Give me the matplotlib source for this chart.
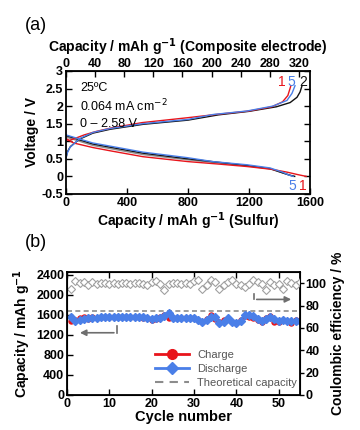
import matplotlib
matplotlib.use("Agg")
import matplotlib.pyplot as plt
from matplotlib.lines import Line2D
from matplotlib.ticker import FuncFormatter

plt.rcParams['font.family'] = ['Liberation Sans', 'DejaVu Sans']
plt.rcParams['axes.unicode_minus'] = False

# ---------------- Panel (a) data: voltage profiles ----------------
# cycle 1 (red)
c1_chg_cap = [0, 20, 60, 120, 200, 300, 500, 800, 1000, 1200, 1350, 1420, 1455, 1475]
c1_chg_v = [1.05, 1.02, 1.08, 1.18, 1.28, 1.38, 1.53, 1.67, 1.77, 1.86, 1.98, 2.12, 2.3, 2.58]
c1_dis_cap = [0, 50, 177, 300, 505, 800, 1000, 1187, 1350, 1450, 1520, 1575]
c1_dis_v = [1.08, 0.95, 0.82, 0.72, 0.56, 0.42, 0.35, 0.28, 0.2, 0.12, 0.05, 0.0]
# cycle 2 (black)
c2_chg_cap = [0, 10, 30, 90, 177, 290, 505, 800, 1000, 1200, 1380, 1470, 1515, 1535, 1548]
c2_chg_v = [0.5, 0.7, 0.85, 1.06, 1.23, 1.34, 1.48, 1.6, 1.75, 1.85, 1.98, 2.1, 2.25, 2.4, 2.58]
c2_dis_cap = [0, 177, 505, 800, 1000, 1187, 1340, 1420, 1470, 1500]
c2_dis_v = [1.16, 0.92, 0.66, 0.5, 0.4, 0.31, 0.22, 0.1, 0.03, 0.0]
# cycles 3-4 (grey)
c3_dis_cap = [0, 177, 505, 800, 1000, 1187, 1340, 1420, 1470, 1495]
c3_dis_v = [1.12, 0.88, 0.62, 0.47, 0.38, 0.3, 0.21, 0.1, 0.03, 0.0]
# cycle 5 (blue)
c5_chg_cap = [0, 8, 26, 92, 177, 288, 505, 800, 964, 1187, 1357, 1449, 1482, 1502]
c5_chg_v = [0.5, 0.65, 0.82, 1.08, 1.25, 1.36, 1.5, 1.62, 1.76, 1.86, 2.0, 2.16, 2.36, 2.58]
c5_dis_cap = [0, 177, 505, 800, 964, 1187, 1338, 1420, 1460, 1490]
c5_dis_v = [1.18, 0.95, 0.69, 0.53, 0.42, 0.33, 0.24, 0.12, 0.04, 0.0]

composite_ratio = 335 / 1600.0

# ---------------- Panel (b) data: cycling ----------------
cycles = list(range(1, 56))
charge = [1480, 1500, 1540, 1560, 1520, 1560, 1540, 1560, 1560, 1550,
          1560, 1560, 1550, 1560, 1550, 1560, 1550, 1540, 1540, 1500,
          1520, 1560, 1600, 1540, 1540, 1540, 1540, 1540, 1540, 1530,
          1500, 1460, 1520, 1600, 1520, 1460, 1500, 1520, 1460, 1440,
          1500, 1580, 1560, 1540, 1500, 1460, 1540, 1580, 1460, 1460,
          1500, 1480, 1440, 1500, 1480]
discharge = [1560, 1480, 1500, 1520, 1540, 1540, 1540, 1550, 1550, 1550,
             1560, 1560, 1550, 1560, 1550, 1560, 1550, 1550, 1540, 1520,
             1530, 1540, 1580, 1640, 1540, 1540, 1540, 1540, 1540, 1530,
             1500, 1460, 1500, 1560, 1560, 1440, 1460, 1540, 1460, 1440,
             1480, 1600, 1600, 1580, 1520, 1480, 1520, 1560, 1520, 1480,
             1500, 1480, 1480, 1480, 1480]
efficiency = [94.6, 101.8, 100.6, 101.5, 98.8, 101.0, 99.4, 100.3, 100.0, 99.7,
              100.0, 99.7, 100.0, 100.3, 99.7, 100.0, 100.3, 99.7, 98.5, 101.0,
              102.3, 99.4, 93.8, 99.4, 100.0, 100.3, 99.7, 100.3, 99.7, 101.8,
              103.0, 95.2, 98.2, 102.7, 101.2, 95.2, 98.2, 101.2, 103.0, 99.7,
              98.2, 96.7, 99.7, 102.7, 101.2, 99.7, 93.8, 101.2, 98.2, 99.7,
              95.2, 102.0, 100.3, 98.5, 101.5]
theoretical = 1672

RED = '#e8141b'
BLUE = '#4a7fe8'
BLACK = '#111111'
GREY = '#8c8c8c'
bold = dict(fontweight='bold')
TICK_FS = 9

fig = plt.figure(figsize=(3.6, 4.3), dpi=100)

# ================= panel (a) =================
ax = fig.add_axes([0.183, 0.549, 0.678, 0.286])
ax.plot(c3_dis_cap, c3_dis_v, color=GREY, lw=1)
ax.plot(c2_chg_cap, c2_chg_v, color=BLACK, lw=1)
ax.plot(c2_dis_cap, c2_dis_v, color=BLACK, lw=1)
ax.plot(c1_chg_cap, c1_chg_v, color=RED, lw=1)
ax.plot(c1_dis_cap, c1_dis_v, color=RED, lw=1)
ax.plot(c5_chg_cap, c5_chg_v, color=BLUE, lw=1)
ax.plot(c5_dis_cap, c5_dis_v, color=BLUE, lw=1)
ax.set_xlim(0, 1600)
ax.set_ylim(-0.5, 3)
ax.set_xticks([0, 400, 800, 1200, 1600])
ax.set_yticks([-0.5, 0, 0.5, 1, 1.5, 2, 2.5, 3])
ax.yaxis.set_major_formatter(FuncFormatter(lambda v, p: '%g' % v))
ax.tick_params(direction='in', length=4, width=1, labelsize=TICK_FS, right=True, top=False, pad=2)
for lab in ax.get_xticklabels() + ax.get_yticklabels():
    lab.set_fontweight('bold')
for s in ax.spines.values():
    s.set_linewidth(1.3)
ax.set_xlabel('Capacity / mAh g$^{\\mathbf{-1}}$ (Sulfur)', fontsize=10, labelpad=1, **bold)
ax.set_ylabel('Voltage / V', fontsize=10, labelpad=2, **bold)

sec = ax.secondary_xaxis('top', functions=(lambda x: x * composite_ratio,
                                           lambda x: x / composite_ratio))
sec.set_xticks([0, 40, 80, 120, 160, 200, 240, 280, 320])
sec.tick_params(direction='in', length=4, width=1, labelsize=TICK_FS, pad=1)
for lab in sec.get_xticklabels():
    lab.set_fontweight('bold')
sec.set_xlabel('Capacity / mAh g$^{\\mathbf{-1}}$ (Composite electrode)', fontsize=10, labelpad=4, **bold)

ax.text(95, 2.52, '25ºC', fontsize=9, va='center')
ax.text(95, 2.0, '0.064 mA cm$^{-2}$', fontsize=9, va='center')
ax.text(95, 1.5, '0 – 2.58 V', fontsize=9, va='center')
ax.text(1416, 2.68, '1', color=RED, fontsize=10, ha='center', va='center')
ax.text(1475, 2.68, '5', color=BLUE, fontsize=10, ha='center', va='center')
ax.text(1554, 2.68, '2', color=BLACK, fontsize=10, ha='center', va='center')
ax.text(1482, -0.27, '5', color=BLUE, fontsize=10, ha='center', va='center')
ax.text(1554, -0.27, '1', color=RED, fontsize=10, ha='center', va='center')

fig.text(0.07, 0.94, '(a)', fontsize=13, va='center', ha='left')
fig.text(0.07, 0.435, '(b)', fontsize=13, va='center', ha='left')

# ================= panel (b) =================
bx = fig.add_axes([0.186, 0.0814, 0.647, 0.286])
bx.axhline(theoretical, color=GREY, lw=1.2, ls=(0, (3, 2)))
bx.plot(cycles, charge, color=RED, lw=1, marker='o', ms=3.6, mec=RED, mfc=RED)
bx.plot(cycles, discharge, color=BLUE, lw=1, marker='D', ms=3.6, mec=BLUE, mfc=BLUE)
bx.set_xlim(0, 55)
bx.set_ylim(0, 2450)
bx.set_xticks([0, 10, 20, 30, 40, 50])
bx.set_yticks([0, 400, 800, 1200, 1600, 2000, 2400])
bx.tick_params(direction='in', length=4, width=1, labelsize=TICK_FS, top=True, pad=2)
for lab in bx.get_xticklabels() + bx.get_yticklabels():
    lab.set_fontweight('bold')
for s in bx.spines.values():
    s.set_linewidth(1.3)
bx.set_xlabel('Cycle number', fontsize=10.5, labelpad=0, **bold)
bx.set_ylabel('Capacity / mAh g$^{\\mathbf{-1}}$', fontsize=10, labelpad=2, **bold)

cx = bx.twinx()
cx.plot(cycles, efficiency, ls='none', marker='D', ms=4, mfc='white', mec='#a0a0a0', mew=0.8)
cx.set_ylim(0, 110)
cx.set_yticks([0, 20, 40, 60, 80, 100])
cx.tick_params(direction='out', length=3, width=1, labelsize=TICK_FS, pad=1)
for lab in cx.get_yticklabels():
    lab.set_fontweight('bold')
cx.set_ylabel('Coulombic efficiency / %', fontsize=10, labelpad=3, **bold)

# arrows
arrow_col = '#6e6e6e'
bx.plot([11.7, 11.7], [1370, 1240], color=arrow_col, lw=1.2)
bx.annotate('', xy=(2.4, 1240), xytext=(11.75, 1240),
            arrowprops=dict(arrowstyle='-|>', color=arrow_col, lw=1.2, mutation_scale=9))
cx.plot([44.2, 44.2], [90, 85.5], color=arrow_col, lw=1.2)
cx.annotate('', xy=(53.6, 85.5), xytext=(44.15, 85.5),
             arrowprops=dict(arrowstyle='-|>', color=arrow_col, lw=1.2, mutation_scale=9))

handles = [Line2D([], [], color=RED, lw=2, marker='o', ms=7),
           Line2D([], [], color=BLUE, lw=2, marker='D', ms=6),
           Line2D([], [], color=GREY, lw=1.5, ls=(0, (4, 3)))]
leg = bx.legend(handles, ['Charge', 'Discharge', 'Theoretical capacity'],
                loc='lower left', bbox_to_anchor=(0.36, 0.02), frameon=False,
                fontsize=8, handlelength=3.0, handletextpad=0.8, labelspacing=0.35,
                borderaxespad=0)
for t in leg.get_texts():
    t.set_color('#555555')

fig.savefig('out.png', dpi=100)
